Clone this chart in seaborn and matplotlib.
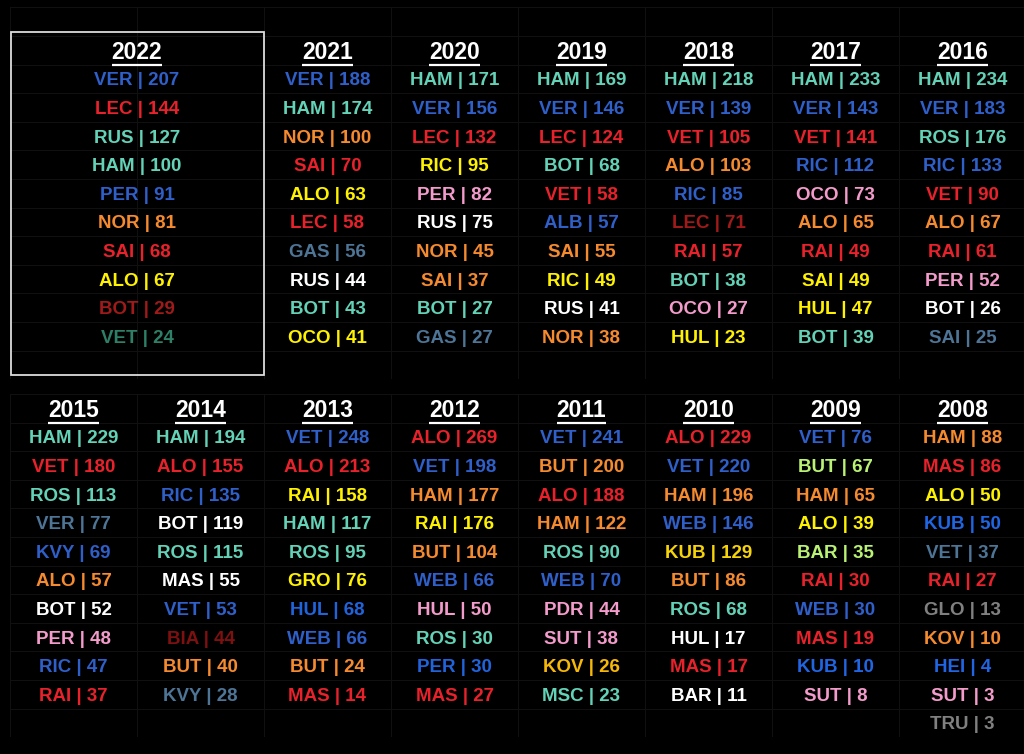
import matplotlib
import matplotlib.pyplot as plt
import numpy as np
import pandas as pd
import seaborn as sns
from matplotlib.colors import ListedColormap
from matplotlib.patches import Rectangle

matplotlib.use("Agg")

# ------------------------------------------------------------
# Данные: первая десятка по очкам за сезоны 2008-2022
# ------------------------------------------------------------
YEARS_TOP = [2022, 2021, 2020, 2019, 2018, 2017, 2016]
YEARS_BOTTOM = [2015, 2014, 2013, 2012, 2011, 2010, 2009, 2008]

DRIVERS = {
    2022: ["VER", "LEC", "RUS", "HAM", "PER", "NOR", "SAI", "ALO", "BOT", "VET"],
    2021: ["VER", "HAM", "NOR", "SAI", "ALO", "LEC", "GAS", "RUS", "BOT", "OCO"],
    2020: ["HAM", "VER", "LEC", "RIC", "PER", "RUS", "NOR", "SAI", "BOT", "GAS"],
    2019: ["HAM", "VER", "LEC", "BOT", "VET", "ALB", "SAI", "RIC", "RUS", "NOR"],
    2018: ["HAM", "VER", "VET", "ALO", "RIC", "LEC", "RAI", "BOT", "OCO", "HUL"],
    2017: ["HAM", "VER", "VET", "RIC", "OCO", "ALO", "RAI", "SAI", "HUL", "BOT"],
    2016: ["HAM", "VER", "ROS", "RIC", "VET", "ALO", "RAI", "PER", "BOT", "SAI"],
    2015: ["HAM", "VET", "ROS", "VER", "KVY", "ALO", "BOT", "PER", "RIC", "RAI"],
    2014: ["HAM", "ALO", "RIC", "BOT", "ROS", "MAS", "VET", "BIA", "BUT", "KVY"],
    2013: ["VET", "ALO", "RAI", "HAM", "ROS", "GRO", "HUL", "WEB", "BUT", "MAS"],
    2012: ["ALO", "VET", "HAM", "RAI", "BUT", "WEB", "HUL", "ROS", "PER", "MAS"],
    2011: ["VET", "BUT", "ALO", "HAM", "ROS", "WEB", "PDR", "SUT", "KOV", "MSC"],
    2010: ["ALO", "VET", "HAM", "WEB", "KUB", "BUT", "ROS", "HUL", "MAS", "BAR"],
    2009: ["VET", "BUT", "HAM", "ALO", "BAR", "RAI", "WEB", "MAS", "KUB", "SUT"],
    2008: ["HAM", "MAS", "ALO", "KUB", "VET", "RAI", "GLO", "KOV", "HEI", "SUT", "TRU"],
}

POINTS = {
    2022: [207, 144, 127, 100, 91, 81, 68, 67, 29, 24],
    2021: [188, 174, 100, 70, 63, 58, 56, 44, 43, 41],
    2020: [171, 156, 132, 95, 82, 75, 45, 37, 27, 27],
    2019: [169, 146, 124, 68, 58, 57, 55, 49, 41, 38],
    2018: [218, 139, 105, 103, 85, 71, 57, 38, 27, 23],
    2017: [233, 143, 141, 112, 73, 65, 49, 49, 47, 39],
    2016: [234, 183, 176, 133, 90, 67, 61, 52, 26, 25],
    2015: [229, 180, 113, 77, 69, 57, 52, 48, 47, 37],
    2014: [194, 155, 135, 119, 115, 55, 53, 44, 40, 28],
    2013: [248, 213, 158, 117, 95, 76, 68, 66, 24, 14],
    2012: [269, 198, 177, 176, 104, 66, 50, 30, 30, 27],
    2011: [241, 200, 188, 122, 90, 70, 44, 38, 26, 23],
    2010: [229, 220, 196, 146, 129, 86, 68, 17, 17, 11],
    2009: [76, 67, 65, 39, 35, 30, 30, 19, 10, 8],
    2008: [88, 86, 50, 50, 37, 27, 13, 10, 4, 3, 3],
}

TEAMS = {
    2022: ["Red Bull", "Ferrari", "Mercedes", "Mercedes", "Red Bull", "McLaren",
           "Ferrari", "Alpine", "Alfa Romeo", "Aston Martin"],
    2021: ["Red Bull", "Mercedes", "McLaren", "Ferrari", "Alpine", "Ferrari",
           "AlphaTauri", "Williams", "Mercedes", "Alpine"],
    2020: ["Mercedes", "Red Bull", "Ferrari", "Renault", "Racing Point", "Williams",
           "McLaren", "McLaren", "Mercedes", "AlphaTauri"],
    2019: ["Mercedes", "Red Bull", "Ferrari", "Mercedes", "Ferrari", "Red Bull",
           "McLaren", "Renault", "Williams", "McLaren"],
    2018: ["Mercedes", "Red Bull", "Ferrari", "McLaren", "Red Bull", "Alfa Romeo",
           "Ferrari", "Mercedes", "Force India", "Renault"],
    2017: ["Mercedes", "Red Bull", "Ferrari", "Red Bull", "Force India", "McLaren",
           "Ferrari", "Renault", "Renault", "Mercedes"],
    2016: ["Mercedes", "Red Bull", "Mercedes", "Red Bull", "Ferrari", "McLaren",
           "Ferrari", "Force India", "Williams", "Toro Rosso"],
    2015: ["Mercedes", "Ferrari", "Mercedes", "Toro Rosso", "Red Bull", "McLaren",
           "Williams", "Force India", "Red Bull", "Ferrari"],
    2014: ["Mercedes", "Ferrari", "Red Bull", "Williams", "Mercedes", "Williams",
           "Red Bull", "Marussia", "McLaren", "Toro Rosso"],
    2013: ["Red Bull", "Ferrari", "Lotus", "Mercedes", "Mercedes", "Lotus",
           "Sauber", "Red Bull", "McLaren", "Ferrari"],
    2012: ["Ferrari", "Red Bull", "McLaren", "Lotus", "McLaren", "Red Bull",
           "Force India", "Mercedes", "Sauber", "Ferrari"],
    2011: ["Red Bull", "McLaren", "Ferrari", "McLaren", "Mercedes", "Red Bull",
           "Force India", "Force India", "Team Lotus", "Mercedes"],
    2010: ["Ferrari", "Red Bull", "McLaren", "Red Bull", "Renault 2010", "McLaren",
           "Mercedes", "Williams", "Ferrari", "Williams"],
    2009: ["Red Bull", "Brawn", "McLaren", "Renault", "Brawn", "Ferrari",
           "Red Bull", "Ferrari", "BMW Sauber", "Force India"],
    2008: ["McLaren", "Ferrari", "Renault", "BMW Sauber", "Toro Rosso", "Ferrari",
           "Toyota", "McLaren", "BMW Sauber", "Force India", "Toyota"],
}

# Цвета команд
TEAM_COLORS = {
    "Red Bull": "#2F5FC9",
    "Ferrari": "#E8212B",
    "Mercedes": "#63D2B6",
    "McLaren": "#F68A2F",
    "Alpine": "#FFF200",
    "Renault": "#FFF200",
    "Lotus": "#FFF200",
    "Alfa Romeo": "#A01A1A",
    "Marussia": "#7E1010",
    "Aston Martin": "#2E7F67",
    "AlphaTauri": "#4E7596",
    "Toro Rosso": "#4E7596",
    "Williams": "#FFFFFF",
    "Racing Point": "#F39BCA",
    "Force India": "#F39BCA",
    "Sauber": "#2064DC",
    "BMW Sauber": "#2066E4",
    "Team Lotus": "#F7B708",
    "Renault 2010": "#F7D40A",
    "Brawn": "#BAF273",
    "Toyota": "#808080",
}

FONT = ["Liberation Sans", "DejaVu Sans"]
ROW_PX = 28.6
FIG_W, FIG_H = 1024, 754
COL_PX = 127
LEFT_PX = 10
TEXT_DY = 0.07


def build_table() -> pd.DataFrame:
    """Собрать длинную таблицу: год, место, пилот, очки, команда."""
    rows = []
    for year in YEARS_TOP + YEARS_BOTTOM:
        for pos, (drv, pts, team) in enumerate(
            zip(DRIVERS[year], POINTS[year], TEAMS[year]), start=1
        ):
            rows.append({"year": year, "pos": pos, "driver": drv,
                         "points": pts, "team": team})
    return pd.DataFrame(rows)


def add_block(fig, top_px: float, nrows: int):
    """Создать оси с сеткой «как в таблице» через sns.heatmap."""
    ax = fig.add_axes([
        LEFT_PX / FIG_W,
        1 - (top_px + nrows * ROW_PX) / FIG_H,
        8 * COL_PX / FIG_W,
        nrows * ROW_PX / FIG_H,
    ])
    sns.heatmap(
        np.zeros((nrows, 8)), ax=ax, cmap=ListedColormap(["black"]),
        cbar=False, linewidths=0.6, linecolor="#101010",
        xticklabels=False, yticklabels=False,
    )
    ax.set_facecolor("black")
    return ax


def draw_column(ax, df_year, x, header_row, year):
    """Нарисовать заголовок-год с подчёркиванием и список пилотов."""
    head = ax.text(x, header_row + 0.5 + TEXT_DY, str(year), ha="center",
                   va="center", fontsize=16.5, fontweight="bold",
                   color="white", family=FONT)
    for _, r in df_year.iterrows():
        ax.text(x, header_row + r["pos"] + 0.5 + TEXT_DY,
                f"{r['driver']} | {r['points']}",
                ha="center", va="center", fontsize=13.5, fontweight="bold",
                color=TEAM_COLORS[r["team"]], family=FONT)
    return head


def underline(ax, text_obj, renderer):
    bb = text_obj.get_window_extent(renderer=renderer)
    inv = ax.transData.inverted()
    (x0, y0), (x1, _) = inv.transform([(bb.x0, bb.y0 - 1.0), (bb.x1, bb.y0)])
    ax.plot([x0, x1], [y0, y0], color="white", lw=1.6, solid_capstyle="butt")


sns.set_theme(style="dark")
plt.rcParams["font.family"] = FONT

df = build_table()

fig = plt.figure(figsize=(FIG_W / 100, FIG_H / 100), dpi=100, facecolor="black")

ax_top = add_block(fig, 36 - ROW_PX, 13)
ax_bot = add_block(fig, 394, 12)

headers = []
for i, year in enumerate(YEARS_TOP):
    x = 1.0 if i == 0 else i + 1.5
    headers.append((ax_top, draw_column(ax_top, df[df["year"] == year], x, 1, year)))
for i, year in enumerate(YEARS_BOTTOM):
    headers.append((ax_bot, draw_column(ax_bot, df[df["year"] == year], i + 0.5, 0, year)))

# рамка вокруг текущего сезона
y_top = (32 - (36 - ROW_PX)) / ROW_PX
y_bot = (375 - (36 - ROW_PX)) / ROW_PX
ax_top.add_patch(Rectangle((1 / COL_PX, y_top), (254 - 1) / COL_PX, y_bot - y_top,
                           fill=False, edgecolor="#dcdcdc", lw=1.3, clip_on=False))

fig.canvas.draw()
renderer = fig.canvas.get_renderer()
for ax, t in headers:
    underline(ax, t, renderer)

fig.savefig("out.png", dpi=100, facecolor="black")
plt.close(fig)
